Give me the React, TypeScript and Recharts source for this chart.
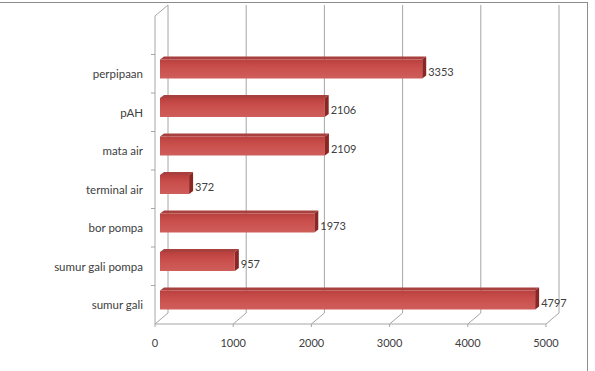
import { BarChart, Bar, XAxis, YAxis, CartesianGrid, LabelList } from "recharts";

const categories = [
  "perpipaan",
  "pAH",
  "mata air",
  "terminal air",
  "bor pompa",
  "sumur gali pompa",
  "sumur gali",
];
const values = [3353, 2106, 2109, 372, 1973, 957, 4797];
const xTicks = [0, 1000, 2000, 3000, 4000, 5000];

const data = categories.map((name, i) => ({ name, value: values[i] }));

// 3D depth of the walls and of the bars
const DX = 13;
const DY = -11;
const BX = 4;
const BY = -3;

const FONT = "Lato, 'Open Sans', sans-serif";

function GridLine(props: any) {
  const { x1, y1, y2, index } = props;
  const bx = x1 + DX;
  return (
    <g key={`g-${index}`}>
      <line x1={bx} y1={y1 + DY} x2={bx} y2={y2 + DY} stroke="#a6a6a6" strokeWidth={1} />
      <line x1={x1} y1={y2} x2={bx} y2={y2 + DY} stroke="#a6a6a6" strokeWidth={1} />
      {index === 0 && (
        <line x1={x1} y1={y1} x2={bx} y2={y1 + DY} stroke="#a6a6a6" strokeWidth={1} />
      )}
    </g>
  );
}

function Bar3D(props: any) {
  const { x, y, width, height } = props;
  if (!width || width <= 0) return null;
  const fx = x + 5;
  const fy = y - 5;
  const w = width;
  const h = height;
  return (
    <g>
      <polygon
        points={`${fx},${fy} ${fx + BX},${fy + BY} ${fx + w + BX},${fy + BY} ${fx + w},${fy}`}
        fill="#a8403e"
      />
      <polygon
        points={`${fx + w},${fy} ${fx + w + BX},${fy + BY} ${fx + w + BX},${fy + h + BY} ${fx + w},${fy + h}`}
        fill="#8a2624"
      />
      <rect x={fx} y={fy} width={w} height={h} fill="url(#barGrad)" />
    </g>
  );
}

function CatTick(props: any) {
  const { x, y, payload } = props;
  const half = payload && payload.offset ? payload.offset : 19;
  const ax = x + 12;
  return (
    <g>
      <text
        x={x}
        y={y}
        textAnchor="end"
        dominantBaseline="central"
        fontSize={11.5}
        fontFamily={FONT}
        fill="#404040"
      >
        {payload.value}
      </text>
      <line x1={ax - 4} y1={y - half} x2={ax} y2={y - half} stroke="#a6a6a6" />
    </g>
  );
}

export default function App() {
  return (
    <div style={{ position: "absolute", left: 0, top: 0, width: 595, height: 371, background: "#fff" }}>
      <div
        style={{
          position: "absolute",
          left: -5,
          top: 2,
          width: 593,
          height: 380,
          borderTop: "1px solid #8c8c8c",
          borderRight: "1px solid #8c8c8c",
          boxSizing: "border-box",
        }}
      />
      <BarChart
        width={595}
        height={371}
        data={data}
        layout="vertical"
        margin={{ top: 16, right: 49, bottom: 17, left: 0 }}
        style={{ position: "absolute", left: 0, top: 0 }}
      >
        <defs>
          <linearGradient id="barGrad" x1="0" y1="0" x2="0" y2="1">
            <stop offset="0%" stopColor="#b9403e" />
            <stop offset="35%" stopColor="#c84d4a" />
            <stop offset="100%" stopColor="#cf5e5b" />
          </linearGradient>
        </defs>
        <CartesianGrid horizontal={false} vertical={GridLine} />
        <XAxis
          type="number"
          domain={[0, 5000]}
          ticks={xTicks}
          height={30}
          tickSize={3}
          tickMargin={12}
          axisLine={{ stroke: "#a6a6a6" }}
          tickLine={{ stroke: "#a6a6a6" }}
          tick={{ fontSize: 11, fontFamily: FONT, fill: "#404040" }}
        />
        <YAxis
          type="category"
          dataKey="name"
          width={155}
          padding={{ top: 38.5, bottom: 0 }}
          tickSize={4}
          tickMargin={8}
          axisLine={{ stroke: "#a6a6a6" }}
          tickLine={false}
          tick={CatTick}
          interval={0}
        />
        <Bar dataKey="value" barSize={19} shape={Bar3D} isAnimationActive={false}>
          <LabelList
            dataKey="value"
            position="right"
            offset={11}
            dy={-2}
            fontSize={11}
            fontFamily={FONT}
            fill="#404040"
          />
        </Bar>
      </BarChart>
    </div>
  );
}
